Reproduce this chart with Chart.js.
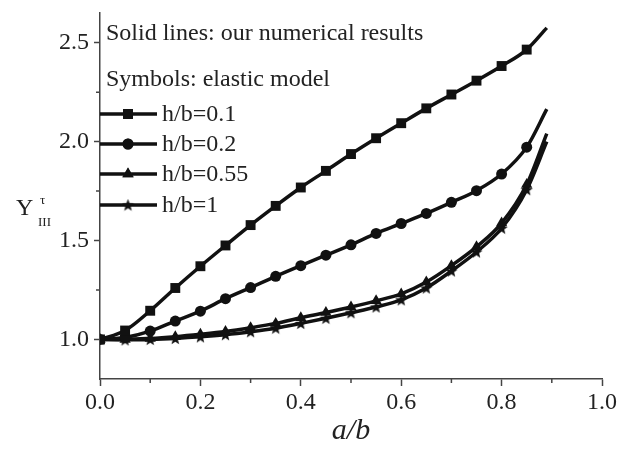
<!DOCTYPE html>
<html>
<head>
<meta charset="utf-8">
<title>Y_III vs a/b</title>
<script src="https://cdn.jsdelivr.net/npm/chart.js@4.4.1/dist/chart.umd.min.js"></script>
<style>
  body { margin: 0; background: #fff; }
  canvas { display: block; }
</style>
</head>
<body>
<canvas id="chart" width="618" height="449"></canvas>
<script>
// a/b positions of the elastic-model symbols
var xValues = [0, 0.05, 0.1, 0.15, 0.2, 0.25, 0.3, 0.35, 0.4, 0.45, 0.5, 0.55, 0.6, 0.65, 0.7, 0.75, 0.8, 0.85];
// numerical curves run a little further than the last symbol
var lineEndX = 0.89;

var seriesLabels = ["h/b=0.1", "h/b=0.2", "h/b=0.55", "h/b=1"];

var valsH01 = [1.0, 1.045, 1.145, 1.26, 1.37, 1.475, 1.578, 1.675, 1.768, 1.852, 1.937, 2.017, 2.093, 2.168, 2.238, 2.308, 2.382, 2.465];
var valsH02 = [1.0, 1.01, 1.042, 1.093, 1.143, 1.206, 1.262, 1.319, 1.373, 1.426, 1.478, 1.536, 1.586, 1.637, 1.693, 1.752, 1.836, 1.972];
var valsH055 = [1.0, 1.0, 1.005, 1.014, 1.026, 1.04, 1.059, 1.081, 1.11, 1.136, 1.164, 1.195, 1.23, 1.29, 1.373, 1.468, 1.588, 1.783];
var valsH1 = [1.0, 0.998, 1.0, 1.005, 1.013, 1.024, 1.039, 1.057, 1.081, 1.107, 1.135, 1.164, 1.2, 1.26, 1.346, 1.442, 1.562, 1.757];
// end values of the solid lines at a/b = lineEndX
var lineEndVals = [2.575, 2.164, 2.04, 2.0];

var xTicks = [0, 0.2, 0.4, 0.6, 0.8, 1.0];
var yTicks = [1.0, 1.5, 2.0, 2.5];
var xMinorTicks = [0.1, 0.3, 0.5, 0.7, 0.9];
var yMinorTicks = [1.25, 1.75, 2.25];

var headerLines = ["Solid lines: our numerical results", "Symbols: elastic model"];

var INK = "#111";
var AXIS = "#444";
var SERIF = "'Liberation Serif', 'Times New Roman', serif";

// filled five point star for the h/b=1 symbols
function makeStar(size) {
  var c = document.createElement("canvas");
  c.width = size;
  c.height = size;
  var g = c.getContext("2d");
  var cx = size / 2, cy = size / 2 + 0.5;
  var outer = size / 2, inner = outer * 0.42;
  g.beginPath();
  for (var i = 0; i < 10; i++) {
    var r = i % 2 === 0 ? outer : inner;
    var a = -Math.PI / 2 + i * Math.PI / 5;
    var px = cx + r * Math.cos(a), py = cy + r * Math.sin(a);
    if (i === 0) g.moveTo(px, py); else g.lineTo(px, py);
  }
  g.closePath();
  g.fillStyle = INK;
  g.fill();
  return c;
}
var starImg = makeStar(13);

var pointStyles = ["rect", "circle", "triangle", starImg];
var pointSizes = [7, 5.5, 6.5, 6];
var allVals = [valsH01, valsH02, valsH055, valsH1];

function buildDataset(idx) {
  var vals = allVals[idx];
  var pts = xValues.map(function (x, i) { return { x: x, y: vals[i] }; });
  pts.push({ x: lineEndX, y: lineEndVals[idx] });
  var radii = pts.map(function (p, i) { return i === pts.length - 1 ? 0 : pointSizes[idx]; });
  return {
    label: seriesLabels[idx],
    data: pts,
    showLine: true,
    borderColor: INK,
    backgroundColor: INK,
    borderWidth: 3.5,
    cubicInterpolationMode: "monotone",
    pointStyle: pointStyles[idx],
    pointRadius: radii,
    pointBorderWidth: 0,
    pointHoverRadius: radii
  };
}

// minor ticks, y-axis title and the legend box are drawn by hand
var extrasPlugin = {
  id: "extras",
  afterDraw: function (chart) {
    var ctx = chart.ctx;
    var xs = chart.scales.x, ys = chart.scales.y;
    var area = chart.chartArea;
    ctx.save();

    ctx.strokeStyle = AXIS;
    ctx.lineWidth = 1.5;
    ctx.beginPath();
    xMinorTicks.forEach(function (v) {
      var px = xs.getPixelForValue(v);
      ctx.moveTo(px, area.bottom);
      ctx.lineTo(px, area.bottom + 4);
    });
    yMinorTicks.forEach(function (v) {
      var py = ys.getPixelForValue(v);
      ctx.moveTo(area.left - 4, py);
      ctx.lineTo(area.left, py);
    });
    ctx.stroke();

    // Y^tau_III
    ctx.fillStyle = "#222";
    ctx.textBaseline = "alphabetic";
    ctx.textAlign = "left";
    ctx.font = "24px " + SERIF;
    ctx.fillText("Y", 16, 215);
    ctx.font = "13px " + SERIF;
    ctx.fillText("\u03c4", 40, 204);
    ctx.fillText("III", 38, 226);

    // legend
    ctx.font = "24px " + SERIF;
    ctx.textBaseline = "middle";
    ctx.fillText(headerLines[0], 106, 34);
    ctx.fillText(headerLines[1], 106, 80);

    var rowY = [114, 144, 174, 205];
    chart.data.datasets.forEach(function (ds, i) {
      var y = rowY[i];
      ctx.strokeStyle = INK;
      ctx.lineWidth = 3.5;
      ctx.beginPath();
      ctx.moveTo(area.left, y);
      ctx.lineTo(157, y);
      ctx.stroke();
      Chart.helpers.drawPoint(ctx, {
        pointStyle: ds.pointStyle,
        radius: pointSizes[i],
        borderWidth: 0,
        rotation: 0
      }, 128, y);
      ctx.fillStyle = INK;
      ctx.fill();
      ctx.fillStyle = "#222";
      ctx.fillText(ds.label, 162, y + 1);
    });
    ctx.restore();
  }
};

var ctx = document.getElementById("chart").getContext("2d");
window.myChart = new Chart(ctx, {
  type: "scatter",
  data: {
    datasets: [0, 1, 2, 3].map(buildDataset)
  },
  options: {
    responsive: false,
    animation: false,
    layout: { padding: { top: 13, right: 16, bottom: 0, left: 0 } },
    plugins: {
      legend: { display: false },
      tooltip: { enabled: false }
    },
    scales: {
      x: {
        type: "linear",
        min: 0,
        max: 1,
        afterBuildTicks: function (scale) {
          scale.ticks = xTicks.map(function (v) { return { value: v }; });
        },
        afterFit: function (scale) {
          scale.height = 70;
          scale.paddingLeft = 0;
          scale.paddingRight = 0;
        },
        grid: { drawOnChartArea: false, drawTicks: true, tickLength: 7, tickColor: AXIS, tickWidth: 1.5 },
        border: { color: AXIS, width: 1.5 },
        ticks: {
          color: "#222",
          padding: 2,
          font: { family: SERIF, size: 24 },
          callback: function (v) { return v.toFixed(1); }
        },
        title: {
          display: true,
          text: "a/b",
          color: "#222",
          padding: { top: 0, bottom: 0 },
          font: { family: SERIF, size: 30, style: "italic" }
        }
      },
      y: {
        type: "linear",
        min: 0.8,
        max: 2.65,
        afterBuildTicks: function (scale) {
          scale.ticks = yTicks.map(function (v) { return { value: v }; });
        },
        afterFit: function (scale) {
          scale.width = 100;
          scale.paddingTop = 0;
          scale.paddingBottom = 0;
        },
        grid: { drawOnChartArea: false, drawTicks: true, tickLength: 6, tickColor: AXIS, tickWidth: 1.5 },
        border: { color: AXIS, width: 1.5 },
        ticks: {
          color: "#222",
          padding: 5,
          font: { family: SERIF, size: 24 },
          callback: function (v) { return v.toFixed(1); }
        }
      }
    }
  },
  plugins: [extrasPlugin]
});
</script>
</body>
</html>
